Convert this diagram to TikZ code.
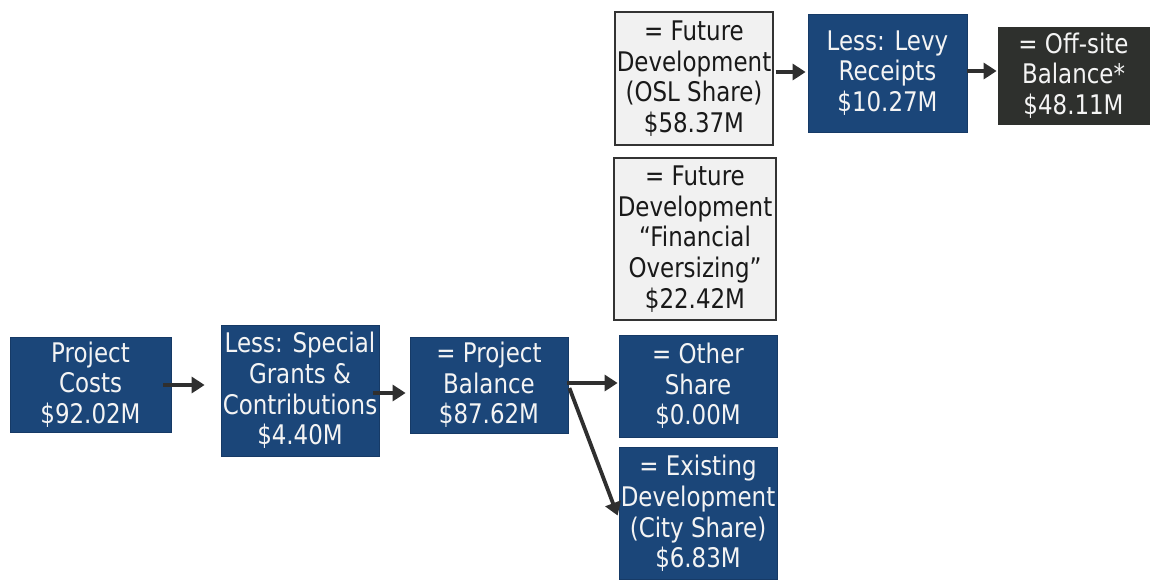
\documentclass[tikz,border=0pt]{standalone}
\usepackage{fontspec}
\setmainfont{DejaVu Sans}[FakeStretch=0.85]
\usetikzlibrary{arrows.meta}
\definecolor{navy}{HTML}{1B4679}
\definecolor{navyedge}{HTML}{163A66}
\definecolor{darkbox}{HTML}{2E302D}
\definecolor{lightbox}{HTML}{F1F1F1}
\definecolor{arrowc}{HTML}{2F2F2F}
\definecolor{whitetext}{HTML}{F4F4F4}
\tikzset{
  box/.style={rectangle, inner sep=0pt, align=center,
    font=\fontsize{27}{30.7}\selectfont},
  bluebox/.style={box, fill=navy, draw=navyedge, line width=0.8pt, text=whitetext},
  greybox/.style={box, fill=lightbox, draw=black!80, line width=1.2pt, text=black!90},
  blackbox/.style={box, fill=darkbox, draw=darkbox, line width=0.8pt, text=whitetext},
  arr/.style={draw=arrowc, line width=3.8pt, -{Triangle[length=13pt,width=16pt]}}
}
\begin{document}
\begin{tikzpicture}[x=1pt,y=-1pt]
\useasboundingbox (0,0) rectangle (1151,579);
\fill[white] (0,0) rectangle (1151,579);

\node[bluebox, minimum width=161pt, minimum height=95pt] (pc) at (90.5,384.5) {Project\\Costs\\\$92.02M};
\node[bluebox, minimum width=158pt, minimum height=131pt] (ls) at (300,390.5) {Less: Special\\Grants \&\\Contributions\\\$4.40M};
\node[bluebox, minimum width=158pt, minimum height=96pt] (pb) at (489,385) {= Project\\Balance\\\$87.62M};
\node[bluebox, minimum width=158pt, minimum height=102pt] (os) at (698,386) {= Other\\Share\\\$0.00M};
\node[bluebox, minimum width=158pt, minimum height=132pt] (ed) at (698,513.5) {= Existing\\Development\\(City Share)\\\$6.83M};
\node[greybox, minimum width=162pt, minimum height=162pt] (fo) at (695,239) {= Future\\Development\\“Financial\\Oversizing”\\\$22.42M};
\node[greybox, minimum width=158pt, minimum height=133pt] (osl) at (694,78.5) {= Future\\Development\\(OSL Share)\\\$58.37M};
\node[bluebox, minimum width=159pt, minimum height=118pt] (lv) at (887.5,73) {Less: Levy\\Receipts\\\$10.27M};
\node[blackbox, minimum width=151pt, minimum height=97pt] (ob) at (1073.5,75.5) {= Off-site\\Balance*\\\$48.11M};

\draw[arr] ([shift={(-8,0.5)}]pc.east) -- ([shift={(-16,-5.5)}]ls.west);
\draw[arr] ([shift={(-6,2.5)}]ls.east) -- ([shift={(-4,8)}]pb.west);
\draw[arr] ([shift={(-1,-2)}]pb.east) -- ([shift={(-1,-3)}]os.west);
\draw[arr] ([shift={(1,3)}]pb.east) -- ([shift={(-1,2)}]ed.west);
\draw[arr] ([shift={(2,-6.5)}]osl.east) -- ([shift={(-2,-1)}]lv.west);
\draw[arr] ([shift={(0,-2)}]lv.east) -- ([shift={(-1,-4.5)}]ob.west);
\end{tikzpicture}
\end{document}
